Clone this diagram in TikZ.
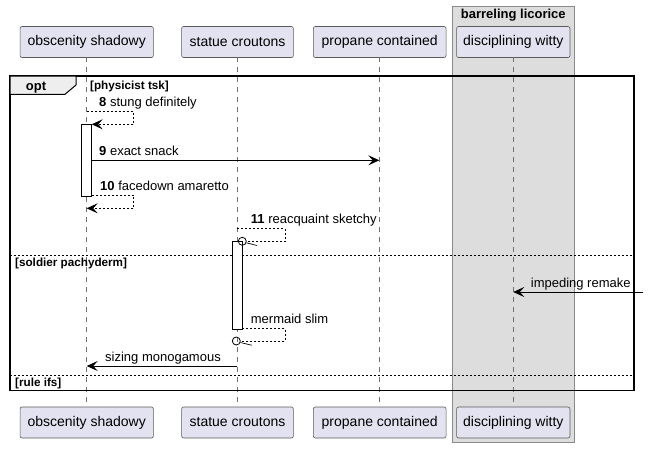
\documentclass[tikz,border=0pt]{standalone}
\usepackage{fontspec}
\setmainfont{Liberation Sans}
\usetikzlibrary{arrows.meta}
\definecolor{partfill}{HTML}{E2E2F0}
\definecolor{partdraw}{HTML}{5A5A5A}
\definecolor{boxfill}{HTML}{DDDDDD}
\definecolor{boxdraw}{HTML}{8A8A8A}
\definecolor{tabfill}{HTML}{EEEEEE}
\definecolor{lifecol}{HTML}{707070}
\tikzset{
  part/.style={draw=partdraw, fill=partfill, rounded corners=2pt, line width=0.6pt,
    minimum height=31pt, inner sep=0pt, font=\fontsize{14}{16}\selectfont},
  lifeline/.style={draw=lifecol, line width=0.6pt, dash pattern=on 5pt off 5pt},
  msg/.style={line width=0.8pt, -{Stealth[length=11pt,width=10pt,inset=4.5pt]}},
  dmsg/.style={line width=0.8pt, dash pattern=on 2pt off 2pt, -{Stealth[length=11pt,width=10pt,inset=4.5pt]}},
  dline/.style={line width=0.8pt, dash pattern=on 2pt off 2pt},
  mtext/.style={anchor=base west, inner sep=0pt, font=\fontsize{13}{15}\selectfont},
  gtext/.style={anchor=base west, inner sep=0pt, font=\bfseries\fontsize{11.7}{13}\selectfont},
  act/.style={draw=black, fill=white, line width=0.8pt},
  sep/.style={line width=0.7pt, dash pattern=on 2pt off 2pt},
}
\begin{document}
\begin{tikzpicture}[x=1pt,y=-1pt]
\useasboundingbox (0,0) rectangle (648,448);
% box
\draw[fill=boxfill, draw=boxdraw, line width=0.7pt] (452.3,6) rectangle (574.3,442.7);
\node[anchor=base, inner sep=0pt, font=\bfseries\fontsize{13}{15}\selectfont] (boxtitle) at (513.3,18.3) {barreling licorice};
% participants top
\node[part, minimum width=133.3pt] (A) at (86.7,42) {obscenity shadowy};
\node[part, minimum width=111.7pt] (B) at (237.5,42) {statue croutons};
\node[part, minimum width=132.7pt] (C) at (379.7,42) {propane contained};
\node[part, minimum width=113.3pt] (D) at (513.3,42) {disciplining witty};
% participants bottom
\node[part, minimum width=133.3pt] (A2) at (86.7,422.5) {obscenity shadowy};
\node[part, minimum width=111.7pt] (B2) at (237.5,422.5) {statue croutons};
\node[part, minimum width=132.7pt] (C2) at (379.7,422.5) {propane contained};
\node[part, minimum width=113.3pt] (D2) at (513.3,422.5) {disciplining witty};
% lifelines
\draw[lifeline] (86.7,57.3) -- (86.7,406.7);
\draw[lifeline] (237.3,57.3) -- (237.3,406.7);
\draw[lifeline] (379.3,57.3) -- (379.3,406.7);
\draw[lifeline] (513.3,57.3) -- (513.3,406.7);
% opt frame
\draw[line width=1.6pt] (10,76) rectangle (634,390.3);
\draw[fill=tabfill, line width=1pt] (10,76) -- (76,76) -- (76,85) -- (65,94.3) -- (10,94.3) -- cycle;
\node[anchor=base, inner sep=0pt, font=\bfseries\fontsize{13}{15}\selectfont] (opt) at (36,90) {opt};
\node[gtext] (g1) at (90,89.3) {[physicist tsk]};
\draw[sep] (10,255) -- (634,255);
\node[gtext] (g2) at (15,266.7) {[soldier pachyderm]};
\draw[sep] (10,375.3) -- (634,375.3);
\node[gtext] (g3) at (15,386.7) {[rule ifs]};
% activations
\draw[act] (81.7,124.3) rectangle (91.7,196);
\draw[act] (232.3,241.3) rectangle (242.3,329);
% message 8
\coordinate (m8a) at (86.7,111.7);
\coordinate (m8b) at (91.7,124.3);
\node[mtext] (t8) at (99,106) {\textbf{8} stung definitely};
\draw[dmsg] (m8a) -- (133.7,111.7) -- (133.7,124.3) -- (m8b);
% message 9
\coordinate (m9a) at (91.7,160.3);
\coordinate (m9b) at (379.3,160.3);
\node[mtext] (t9) at (99,155) {\textbf{9} exact snack};
\draw[msg] (m9a) -- (m9b);
% message 10
\coordinate (m10a) at (91.7,195.3);
\coordinate (m10b) at (86.7,208.3);
\node[mtext] (t10) at (100,190) {\textbf{10} facedown amaretto};
\draw[dmsg] (m10a) -- (133.7,195.3) -- (133.7,208.3) -- (m10b);
% message 11
\coordinate (m11a) at (237.3,228.3);
\node[circle, draw, line width=0.8pt, minimum size=8pt, inner sep=0pt] (o11) at (242.3,241.3) {};
\node[mtext] (t11) at (250.7,223.5) {\textbf{11} reacquaint sketchy};
\draw[dline] (m11a) -- (285,228.3) -- (285,241.3) -- (o11.east);
\draw[line width=0.7pt] (o11.-20) -- (257,245.5);
% impeding remake
\coordinate (mia) at (643.3,292);
\coordinate (mib) at (513.3,292);
\node[mtext] (ti) at (530.7,287.3) {impeding remake};
\draw[msg] (mia) -- (mib);
% mermaid slim
\coordinate (mma) at (242.3,328.3);
\node[circle, draw, line width=0.8pt, minimum size=8pt, inner sep=0pt] (omm) at (236.3,341) {};
\node[mtext] (tm) at (250.7,323.3) {mermaid slim};
\draw[dline] (mma) -- (285,328.3) -- (285,341) -- (omm.east);
\draw[line width=0.7pt] (omm.-20) -- (251.7,345.2);
% sizing monogamous
\coordinate (msa) at (237.3,366);
\coordinate (msb) at (86.7,366);
\node[mtext] (ts) at (105,361.7) {sizing monogamous};
\draw[msg] (msa) -- (msb);
\end{tikzpicture}
\end{document}
